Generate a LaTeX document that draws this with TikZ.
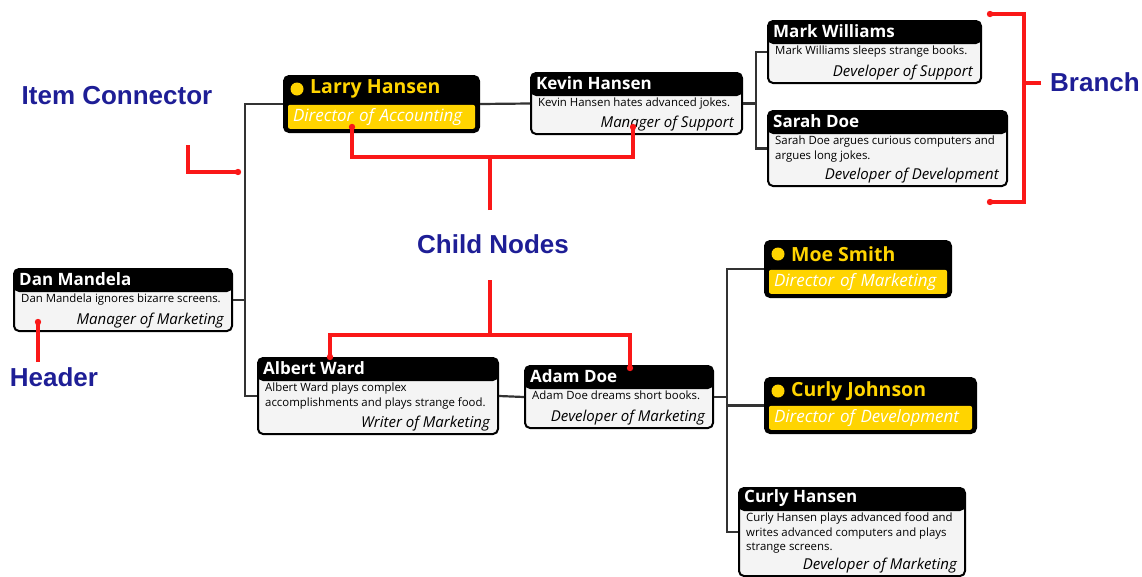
\documentclass[tikz,border=0pt]{standalone}
\usepackage{fontspec}
\setmainfont{Open Sans}
\newfontfamily\calloutfont{Liberation Sans}
\usetikzlibrary{positioning}

\definecolor{headyellow}{RGB}{255,212,0}
\definecolor{bodygray}{RGB}{244,244,244}
\definecolor{calloutblue}{RGB}{30,30,150}
\definecolor{calloutred}{RGB}{250,24,24}

% plain member: name, x, y, width, height, title, text, role
\newcommand{\member}[8]{%
  \node[member, minimum width=#4pt, minimum height=#5pt] (#1) at (#2,#3) {};
  \node[headline] (#1-title) at ([xshift=6pt,yshift=-11.5pt]#1.north west) {#6};
  \node[desc] (#1-desc) at ([xshift=8pt,yshift=-26pt]#1.north west) {#7};
  \node[role] (#1-role) at ([xshift=-9pt,yshift=4pt]#1.south east) {#8};
}
% manager: name, x, y, width, height, title, role
\newcommand{\manager}[7]{%
  \node[manager, minimum width=#4pt, minimum height=#5pt] (#1) at (#2,#3) {};
  \fill[headyellow] ([xshift=14pt,yshift=-14pt]#1.north west) circle (6.5pt);
  \node[boss] (#1-title) at ([xshift=27pt,yshift=-14pt]#1.north west) {#6};
  \node[band, text width=\dimexpr#4pt-18pt\relax] (#1-band) at ([yshift=4pt]#1.south) {#7};
}

\begin{document}
\begin{tikzpicture}[x=1pt, y=-1pt,
  member/.style={anchor=north west, draw=black, line width=2pt, rounded corners=5pt,
    fill=bodygray, inner sep=0pt,
    path picture={\fill[black] (path picture bounding box.north west)
      rectangle ([yshift=-23pt]path picture bounding box.north east);}},
  manager/.style={anchor=north west, draw=black, line width=2pt, rounded corners=5pt,
    fill=black, inner sep=0pt},
  headline/.style={anchor=west, inner sep=0pt, text=white, font=\bfseries\fontsize{17}{19}\selectfont},
  boss/.style={headline, text=headyellow, font=\bfseries\fontsize{19.5}{21}\selectfont},
  desc/.style={anchor=north west, inner sep=0pt, align=left, font=\fontsize{11.4}{14.5}\selectfont},
  role/.style={anchor=south east, inner sep=0pt, font=\itshape\fontsize{15}{17}\selectfont},
  band/.style={anchor=south, fill=headyellow, rounded corners=2pt, minimum height=24pt,
    inner xsep=5pt, inner ysep=0pt, align=left, text=white, font=\itshape\fontsize{17}{19}\selectfont},
  link/.style={draw=black!80, line width=2.2pt},
  callout/.style={draw=calloutred, line width=3.2pt},
  tag/.style={text=calloutblue, font=\calloutfont\bfseries\fontsize{26}{30}\selectfont}
]
  \useasboundingbox (0,0) rectangle (1142,576);

  % Members of the chart
  \member{dan}{13}{268}{218}{62}{Dan Mandela}{Dan Mandela ignores bizarre screens.}{Manager of Marketing}
  \manager{larry}{283}{75}{195}{56}{Larry Hansen}{Director of Accounting}
  \member{kevin}{530}{72}{211}{61}{Kevin Hansen}{Kevin Hansen hates advanced jokes.}{Manager of Support}
  \member{mark}{767}{20}{213}{62}{Mark Williams}{Mark Williams sleeps strange books.}{Developer of Support}
  \member{sarah}{767}{110}{239}{75}{Sarah Doe}{Sarah Doe argues curious computers and\\argues long jokes.}{Developer of Development}
  \member{albert}{257}{357}{240}{76}{Albert Ward}{Albert Ward plays complex\\accomplishments and plays strange food.}{Writer of Marketing}
  \member{adam}{524}{365}{188}{62}{Adam Doe}{Adam Doe dreams short books.}{Developer of Marketing}
  \manager{moe}{764}{240}{186}{56}{Moe Smith}{Director of Marketing}
  \manager{curlyj}{764}{377}{211}{55}{Curly Johnson}{Director of Development}
  \member{curlyh}{738}{487}{226}{88}{Curly Hansen}{Curly Hansen plays advanced food and\\writes advanced computers and plays\\strange screens.}{Developer of Marketing}

  % Item connectors
  \draw[link] (dan.east) -- ++(12,0) coordinate (dan-fork);
  \draw[link] (dan-fork) |- (larry.west);
  \draw[link] (dan-fork) |- (albert.west);
  \draw[link] (larry.east) -- (kevin.west);
  \draw[link] (kevin.east) -- ++(13,0) coordinate (kevin-fork);
  \draw[link] (kevin-fork) |- (mark.west);
  \draw[link] (kevin-fork) |- (sarah.west);
  \draw[link] (albert.east) -- (adam.west);
  \draw[link] (adam.east) -- ++(13,0) coordinate (adam-fork);
  \draw[link] (adam-fork) |- (moe.west);
  \draw[link] (adam-fork) |- (curlyj.west);
  \draw[link] (adam-fork) |- (curlyh.west);

  % Callout labels
  \node[tag] (item-tag) at (117,96) {Item Connector};
  \node[tag] (header-tag) at (54,377) {Header};
  \node[tag] (child-tag) at (493,244) {Child Nodes};
  \node[tag] (branch-tag) at (1095,82) {Branch};

  % Callout points
  \coordinate (item-start) at (188,145);
  \coordinate (item-dot) at (238,172);
  \coordinate (header-start) at (38,362);
  \coordinate (header-dot) at (38,322);
  \coordinate (child-up) at (490,210);
  \coordinate (child-hub1) at (490,157);
  \coordinate (larry-dot) at (352,127);
  \coordinate (kevin-dot) at (633,127);
  \coordinate (child-down) at (490,280);
  \coordinate (child-hub2) at (490,335);
  \coordinate (albert-dot) at (330,357);
  \coordinate (adam-dot) at (630,368);
  \coordinate (branch-top) at (990,14);
  \coordinate (branch-bottom) at (990,202);
  \coordinate (branch-tick) at (1041,83);

  % Callout lines
  \draw[callout] (item-start) |- (item-dot);
  \draw[callout] (header-start) -- (header-dot);
  \draw[callout] (child-up) -- (child-hub1);
  \draw[callout] (child-hub1) -| (larry-dot);
  \draw[callout] (child-hub1) -| (kevin-dot);
  \draw[callout] (child-down) -- (child-hub2);
  \draw[callout] (child-hub2) -| (albert-dot);
  \draw[callout] (child-hub2) -| (adam-dot);
  \draw[callout] (branch-top) -- ++(34,0) |- (branch-bottom);
  \draw[callout] (branch-tick) -- ++(-17,0);
  \foreach \p in {item-dot,header-dot,larry-dot,kevin-dot,albert-dot,adam-dot,branch-top,branch-bottom}
    \fill[calloutred] (\p) circle (3.2pt);
\end{tikzpicture}
\end{document}
